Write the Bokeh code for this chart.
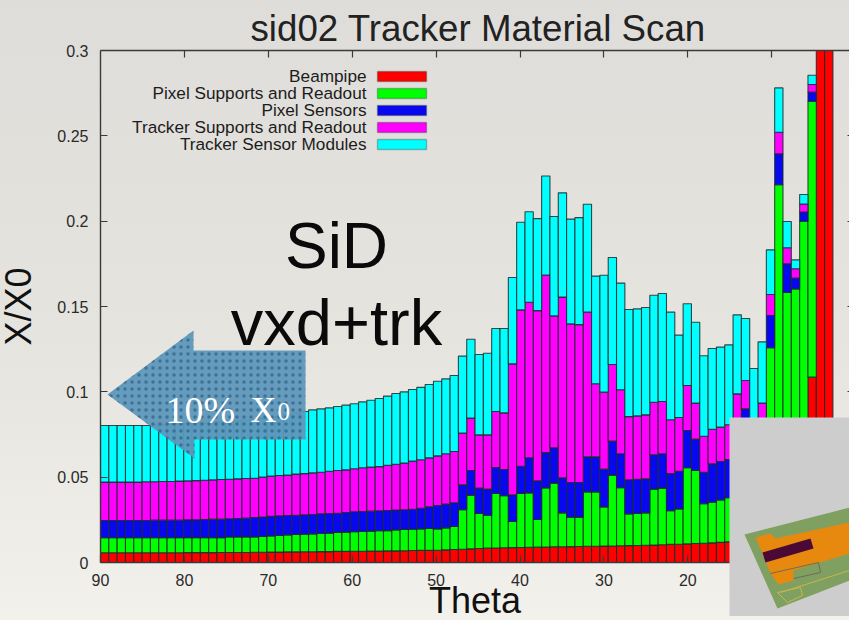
import numpy as np
from bokeh.plotting import figure
from bokeh.embed import file_html
from bokeh.resources import INLINE
from bokeh.models import (Range1d, FixedTicker, LinearAxis, Label, PolyAnnotation)

title_text = "sid02 Tracker Material Scan"
series_names = ["Beampipe", "Pixel Supports and Readout", "Pixel Sensors",
                "Tracker Supports and Readout", "Tracker Sensor Modules"]
series_colors = ["#ff0000", "#00ff00", "#0808f0", "#ff00ff", "#00ffff"]
x_ticks = [90, 80, 70, 60, 50, 40, 30, 20, 10]
y_ticks = [0, 0.05, 0.1, 0.15, 0.2, 0.25, 0.3]
y_tick_labels = ["0", "0.05", "0.1", "0.15", "0.2", "0.25", "0.3"]

# cumulative top of each stack layer, one value per theta bin (90 -> 3 deg)
beampipe_top = [
 .0057,.0057,.0057,.0057,.0057,.0057,.0057,.0057,.0057,.0057,
 .0058,.0058,.0058,.0058,.0059,.0059,.0059,.0059,.0060,.0060,
 .0061,.0061,.0062,.0062,.0063,.0063,.0064,.0064,.0065,.0065,
 .0066,.0066,.0067,.0067,.0068,.0068,.0069,.0070,.0071,.0071,
 .0072,.0074,.0076,.0078,.0080,.0082,.0084,.0085,.0086,.0087,
 .0088,.0089,.0090,.0091,.0092,.0092,.0093,.0094,.0095,.0095,
 .0096,.0097,.0098,.0099,.0100,.0101,.0102,.0104,.0106,.0107,
 .0109,.0111,.0113,.0115,.0118,.0121,.0124,.0126,.0128,.0130,
 .0132,.0134,.0136,.0138,.0140,.1086,.3400,.3400]
pixel_support_top = [
 .0145,.0145,.0145,.0145,.0145,.0145,.0145,.0145,.0145,.0146,
 .0146,.0146,.0146,.0146,.0146,.0150,.0150,.0150,.0150,.0152,
 .0156,.0158,.0162,.0164,.0166,.0168,.0170,.0172,.0176,.0178,
 .0180,.0182,.0184,.0186,.0187,.0191,.0193,.0195,.0197,.0199,
 .0197,.0203,.0211,.0309,.0395,.0287,.0277,.0404,.0391,.0240,
 .0404,.0408,.0252,.0437,.0465,.0291,.0266,.0266,.0414,.0414,
 .0326,.0512,.0439,.0285,.0287,.0291,.0430,.0436,.0303,.0314,
 .0555,.0539,.0344,.0354,.0367,.0379,.0400,.0420,.0400,.0500,
 .1258,.2213,.1582,.1603,.2000,.2703,.3400,.3400]
pixel_sensor_top = [
 .0246,.0246,.0246,.0246,.0246,.0246,.0248,.0248,.0248,.0248,
 .0250,.0250,.0252,.0254,.0254,.0256,.0258,.0260,.0264,.0266,
 .0270,.0273,.0275,.0277,.0279,.0281,.0285,.0287,.0289,.0293,
 .0297,.0299,.0301,.0303,.0305,.0307,.0309,.0312,.0318,.0326,
 .0334,.0342,.0350,.0455,.0539,.0436,.0430,.0557,.0545,.0396,
 .0564,.0613,.0478,.0644,.0672,.0496,.0469,.0469,.0619,.0619,
 .0547,.0711,.0637,.0484,.0488,.0490,.0631,.0637,.0521,.0535,
 .0773,.0723,.0529,.0578,.0592,.0603,.0700,.0900,.0600,.0700,
 .1447,.2394,.1750,.1666,.2053,.2756,.3400,.3400]
tracker_support_top = [
 .0471,.0471,.0471,.0471,.0471,.0473,.0473,.0475,.0475,.0477,
 .0478,.0480,.0482,.0484,.0486,.0488,.0490,.0492,.0494,.0500,
 .0506,.0510,.0512,.0518,.0521,.0525,.0529,.0535,.0539,.0543,
 .0549,.0555,.0559,.0562,.0570,.0576,.0582,.0594,.0602,.0613,
 .0625,.0637,.0650,.0758,.0846,.0748,.0748,.0885,.0877,.1164,
 .1480,.1525,.1476,.1685,.1445,.1555,.1398,.1394,.1467,.1047,
 .0998,.1160,.1012,.0855,.0859,.0865,.0939,.0943,.0836,.0850,
 .1037,.0934,.0740,.0781,.0793,.0807,.0988,.1066,.0750,.0934,
 .1570,.2521,.1844,.1721,.2101,.2801,.3400,.3400]
tracker_sensor_top = [
 .0803,.0803,.0803,.0803,.0803,.0803,.0805,.0807,.0809,.0811,
 .0813,.0816,.0818,.0821,.0824,.0827,.0831,.0835,.0839,.0844,
 .0850,.0856,.0866,.0875,.0885,.0894,.0900,.0906,.0914,.0922,
 .0930,.0941,.0951,.0961,.0975,.0990,.1000,.1014,.1026,.1043,
 .1062,.1076,.1096,.1209,.1308,.1219,.1226,.1371,.1371,.1670,
 .1994,.2055,.2015,.2265,.2027,.2166,.2012,.2021,.2099,.1678,
 .1683,.1787,.1637,.1482,.1486,.1494,.1566,.1576,.1467,.1332,
 .1516,.1408,.1211,.1254,.1262,.1275,.1451,.1430,.1137,.1293,
 .1832,.2781,.1998,.1773,.2156,.2855,.3400,.3400]

tops = [beampipe_top, pixel_support_top, pixel_sensor_top, tracker_support_top, tracker_sensor_top]
n = len(beampipe_top)
bin_width = 0.992
left = 90 - bin_width * np.arange(n)
right = left - bin_width

FONT = "Liberation Sans"
TXT = "#2a2a2a"
OX = 5  # the canvas starts this far left of the window

p = figure(frame_width=749, frame_height=512, output_backend="svg", toolbar_location=None,
           x_range=Range1d(90, 0.73), y_range=Range1d(0, 0.3),
           min_border_left=100 + OX, min_border_right=0, min_border_top=50, min_border_bottom=58,
           border_fill_color=None, background_fill_color=None, outline_line_color=None,
           title=title_text)
p.styles = {"position": "fixed", "left": f"-{OX}px", "top": "0px",
            "background": "linear-gradient(180deg,#dfddd9 0%,#e6e4df 55%,#f3f1ec 100%)"}
p.grid.visible = False
p.title.align = "left"
p.title.offset = 150
p.title.standoff = 4
p.title.text_font = FONT
p.title.text_font_style = "normal"
p.title.text_font_size = "36.7px"
p.title.text_color = "#222222"

bottom = np.zeros(n)
for top, c, name in zip(tops, series_colors, series_names):
    t = np.array(top)
    p.quad(left=left, right=right, bottom=bottom, top=t, fill_color=c,
           line_color="#1c2a2a", line_width=1.1, line_alpha=0.85)
    bottom = t

def style_axis(ax, labels=True):
    ax.axis_line_color = "#3a3a3a"
    ax.axis_line_width = 1.4
    ax.major_tick_line_color = "#3a3a3a"
    ax.major_tick_line_width = 1.2
    ax.major_tick_in = 7
    ax.major_tick_out = 0
    ax.minor_tick_line_color = None
    ax.major_label_text_font = FONT
    ax.major_label_text_font_size = "16px" if labels else "1px"
    ax.major_label_text_color = TXT if labels else None
    ax.major_label_standoff = 11 if labels else 0

xax = p.xaxis[0]
xax.ticker = FixedTicker(ticks=x_ticks)
style_axis(xax)
xax.axis_label = "Theta"
xax.axis_label_text_font = FONT
xax.axis_label_text_font_style = "normal"
xax.axis_label_text_font_size = "36px"
xax.axis_label_text_color = "#111111"
xax.axis_label_standoff = -9

yax = p.yaxis[0]
yax.ticker = FixedTicker(ticks=y_ticks)
yax.major_label_overrides = dict(zip(y_ticks, y_tick_labels))
style_axis(yax)
yax.major_label_standoff = 12
yax.axis_label = "X/X0"
yax.axis_label_text_font = FONT
yax.axis_label_text_font_style = "normal"
yax.axis_label_text_font_size = "36px"
yax.axis_label_text_color = "#111111"
yax.axis_label_standoff = 15

top_ax = LinearAxis(ticker=FixedTicker(ticks=x_ticks[1:]))
style_axis(top_ax, labels=False)
p.add_layout(top_ax, "above")
right_ax = LinearAxis(ticker=FixedTicker(ticks=y_ticks[1:-1]))
style_axis(right_ax, labels=False)
right_ax.axis_line_color = None
right_ax.major_tick_in = 2
p.add_layout(right_ax, "right")

def label(text, x, y, size, color="#111111", align="left", baseline="alphabetic", font=FONT):
    p.add_layout(Label(x=x + OX, y=y, x_units="canvas", y_units="canvas", text=text, text_font=font,
                       text_font_size=size, text_color=color, text_align=align, text_baseline=baseline))

def poly(xs, ys, **kw):
    p.add_layout(PolyAnnotation(xs=[v + OX for v in xs], ys=ys, xs_units="canvas", ys_units="canvas", **kw))

# legend
rows = [76, 93, 110, 127, 144]
for name, c, y in zip(series_names, series_colors, rows):
    label(name, 366, y - 1, "17.2px", align="right", baseline="middle", color="#1c1c1c")
    poly([377, 426, 426, 377], [y - 5, y - 5, y + 5, y + 5], fill_color=c, fill_alpha=1,
         line_color="#1c2a2a", line_width=1.4)

label("SiD", 336, 245, "64px", align="center", color="#0a0a0a")
label("vxd+trk", 336, 322, "65px", align="center", color="#0a0a0a")

# arrow
poly([107, 193, 193, 305, 305, 194, 194], [394, 330, 350, 350, 439, 439, 458],
     fill_color="#5e97ba", fill_alpha=0.95, line_color=None,
     hatch_pattern="dot", hatch_color="#2c5f85", hatch_scale=7, hatch_alpha=0.7)
label("10%", 165, 409, "38px", color="#ffffff", font="Liberation Serif")
label("X", 250, 409, "36px", color="#ffffff", font="Liberation Serif")
label("0", 277, 411, "25px", color="#ffffff", font="Liberation Serif")

# inset picture, a small figure of its own laid over the corner of the chart
inset = figure(width=120, height=199, output_backend="svg", toolbar_location=None,
               x_range=Range1d(729, 849), y_range=Range1d(616, 417),
               x_axis_type=None, y_axis_type=None,
               min_border=0, min_border_left=0, min_border_right=0, min_border_top=0, min_border_bottom=0,
               background_fill_color="#cdcdcd", border_fill_color="#cdcdcd", outline_line_color=None)
inset.styles = {"position": "fixed", "left": "729px", "top": "417px"}
inset.grid.visible = False
inset.patch([744, 830, 849, 849, 777], [534, 512, 507, 580, 608], fill_color="#7fa060", line_color=None)
inset.patch([755, 770, 775, 849, 849, 793, 793, 778, 770, 762], [537, 533, 538, 522, 553, 570, 580, 584, 573, 553],
            fill_color="#e8890f", line_color=None)
inset.patch([762, 810, 813, 765], [552, 538, 548, 562], fill_color="#4a0a35", line_color=None)
inset.line([770, 818, 820, 793], [573, 562, 572, 578], line_color="#6d6d55", line_width=1)
inset.line([777, 800, 802, 787, 777], [592, 587, 595, 602, 592], line_color="#c9b64a", line_width=1)
inset.line([780, 849], [592, 570], line_color="#c9b64a", line_width=1)

open("out.html", "w").write(file_html([p, inset], INLINE))
